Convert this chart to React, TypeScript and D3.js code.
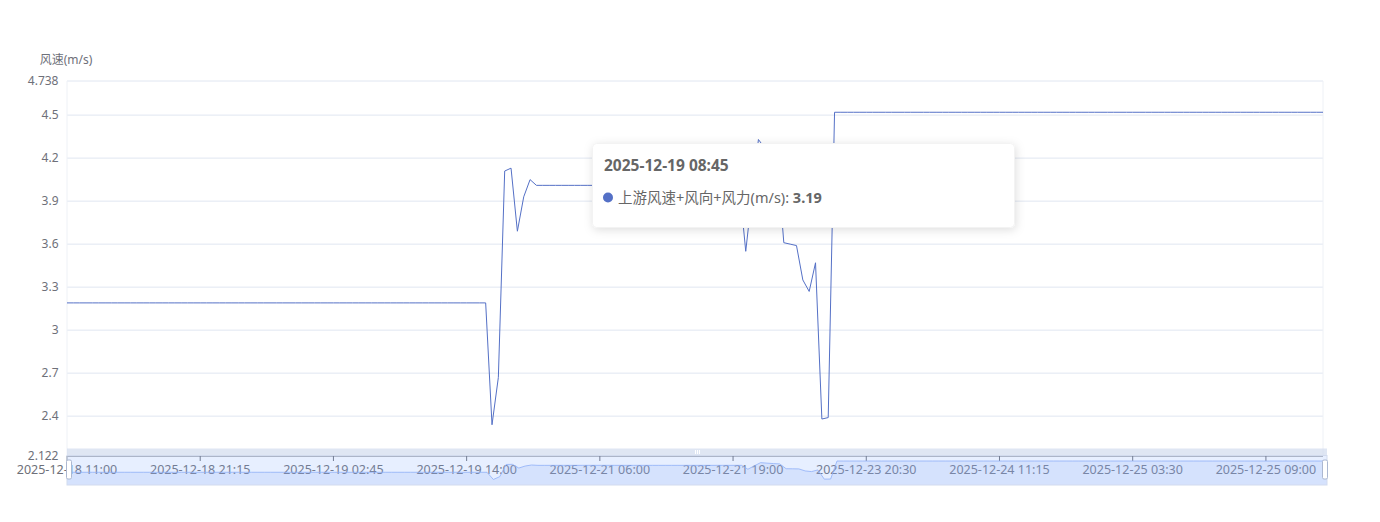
import React from 'react';
import * as d3 from 'd3';

// wind speed series (m/s), one value per category point
const values: number[] = [
  3.19, 3.19, 3.19, 3.19, 3.19, 3.19, 3.19, 3.19, 3.19, 3.19,
  3.19, 3.19, 3.19, 3.19, 3.19, 3.19, 3.19, 3.19, 3.19, 3.19,
  3.19, 3.19, 3.19, 3.19, 3.19, 3.19, 3.19, 3.19, 3.19, 3.19,
  3.19, 3.19, 3.19, 3.19, 3.19, 3.19, 3.19, 3.19, 3.19, 3.19,
  3.19, 3.19, 3.19, 3.19, 3.19, 3.19, 3.19, 3.19, 3.19, 3.19,
  3.19, 3.19, 3.19, 3.19, 3.19, 3.19, 3.19, 3.19, 3.19, 3.19,
  3.19, 3.19, 3.19, 3.19, 3.19, 3.19, 3.19,
  2.34, 2.67, 4.11, 4.13, 3.69, 3.93, 4.05, 4.01,
  4.01, 4.01, 4.01, 4.01, 4.01, 4.01, 4.01, 4.01, 4.01, 4.01,
  4.01, 4.01, 4.01, 4.01, 4.01, 4.01, 4.01, 4.01, 4.01, 4.01,
  4.01, 4.01, 4.01, 4.01, 4.01, 4.01, 4.01, 4.01, 4.01, 4.01,
  4.01, 4.01,
  3.55, 3.95, 4.33, 4.27, 4.22, 4.18, 3.61, 3.60, 3.59, 3.35,
  3.27, 3.47, 2.38, 2.39,
  4.52, 4.52, 4.52, 4.52, 4.52, 4.52, 4.52, 4.52, 4.52, 4.52,
  4.52, 4.52, 4.52, 4.52, 4.52, 4.52, 4.52, 4.52, 4.52, 4.52,
  4.52, 4.52, 4.52, 4.52, 4.52, 4.52, 4.52, 4.52, 4.52, 4.52,
  4.52, 4.52, 4.52, 4.52, 4.52, 4.52, 4.52, 4.52, 4.52, 4.52,
  4.52, 4.52, 4.52, 4.52, 4.52, 4.52, 4.52, 4.52, 4.52, 4.52,
  4.52, 4.52, 4.52, 4.52, 4.52, 4.52, 4.52, 4.52, 4.52, 4.52,
  4.52, 4.52, 4.52, 4.52, 4.52, 4.52, 4.52, 4.52, 4.52, 4.52,
  4.52, 4.52, 4.52, 4.52, 4.52, 4.52, 4.52, 4.52,
];

// category labels that are shown (every labelInterval-th point)
const xLabels: string[] = [
  '2025-12-18 11:00',
  '2025-12-18 21:15',
  '2025-12-19 02:45',
  '2025-12-19 14:00',
  '2025-12-21 06:00',
  '2025-12-21 19:00',
  '2025-12-23 20:30',
  '2025-12-24 11:15',
  '2025-12-25 03:30',
  '2025-12-25 09:00',
];
const labelInterval = 21;

const yMin = 2.122;
const yMax = 4.738;
const yTicks: number[] = [4.5, 4.2, 3.9, 3.6, 3.3, 3, 2.7, 2.4];
const yAxisName = '风速(m/s)';

const tooltipTime = '2025-12-19 08:45';
const tooltipSeries = '上游风速+风向+风力(m/s)';
const tooltipValue = 3.19;

const FONT = "'Noto Sans', 'Noto Sans CJK SC', sans-serif";

export default function App() {
  const left = 67, right = 1323, top = 81, bottom = 456;
  const N = values.length;
  const x = d3.scaleLinear().domain([0, N - 1]).range([left, right]);
  const y = d3.scaleLinear().domain([yMin, yMax]).range([bottom, top]);
  const line = d3.line<number>().x((_, i) => x(i)).y((d) => y(d));

  // slider (dataZoom)
  const sL = 67, sR = 1327, sTop = 455.5, sBot = 485;
  const sx = d3.scaleLinear().domain([0, N - 1]).range([sL, sR]);
  const [dmin, dmax] = d3.extent(values) as [number, number];
  const off = (dmax - dmin) * 0.3;
  const sy = d3.scaleLinear().domain([dmin - off, dmax + off]).range([sBot, sTop]);
  const sLine = d3.line<number>().x((_, i) => sx(i)).y((d) => sy(d));
  const sArea = d3.area<number>().x((_, i) => sx(i)).y0(sBot).y1((d) => sy(d));

  const allY = [yMax, ...yTicks];

  return (
    <svg
      width={1380}
      height={522}
      style={{ position: 'absolute', left: 0, top: 0, display: 'block', background: '#fff' }}
      fontFamily={FONT}
    >
      <defs>
        <filter id="tipShadow" x="-10%" y="-30%" width="120%" height="160%">
          <feDropShadow dx="1" dy="2" stdDeviation="5" floodColor="#000" floodOpacity="0.13" />
        </filter>
      </defs>

      {/* grid lines */}
      {allY.map((v) => (
        <line key={'g' + v} x1={left} x2={right} y1={y(v)} y2={y(v)} stroke="#E0E6F1" strokeWidth={1} />
      ))}
      <line x1={left} x2={left} y1={top} y2={bottom} stroke="#EEF1F6" strokeWidth={1} />
      <line x1={right} x2={right} y1={top} y2={bottom} stroke="#EEF1F6" strokeWidth={1} />

      {/* y labels */}
      {[yMax, ...yTicks, yMin].map((v) => (
        <text key={'yl' + v} x={58.5} y={y(v)} dy="0.35em" textAnchor="end" fontSize={12} fill="#6E7079">
          {String(v)}
        </text>
      ))}
      <text x={66} y={60} dy="0.35em" textAnchor="middle" fontSize={12} fill="#6E7079">
        {yAxisName}
      </text>

      {/* series line */}
      <path d={line(values) || ''} fill="none" stroke="#5470C6" strokeWidth={1} strokeLinejoin="bevel" />

      {/* x axis */}
      <line x1={left} x2={right} y1={bottom} y2={bottom} stroke="#6E7079" strokeWidth={1} />
      {xLabels.map((lab, k) => {
        const xi = x(k * labelInterval);
        return (
          <g key={'xl' + k}>
            <line x1={xi} x2={xi} y1={bottom} y2={bottom + 5} stroke="#6E7079" strokeWidth={1} />
            <text x={xi} y={474} textAnchor="middle" fontSize={12.5} fill="#6E7079">
              {lab}
            </text>
          </g>
        );
      })}

      {/* dataZoom slider */}
      <rect x={sL} y={448.5} width={sR - sL} height={7} fill="#D2DBEE" opacity={0.7} />
      <g stroke="#fff" strokeWidth={1}>
        <line x1={695.5} x2={695.5} y1={450} y2={454} />
        <line x1={697.5} x2={697.5} y1={450} y2={454} />
        <line x1={699.5} x2={699.5} y1={450} y2={454} />
      </g>
      <rect x={sL} y={sTop} width={sR - sL} height={sBot - sTop} fill="rgb(135,175,255)" fillOpacity={0.2} />
      <path d={sArea(values) || ''} fill="#8fb0f7" fillOpacity={0.2} stroke="none" />
      <path d={sLine(values) || ''} fill="none" stroke="#8fb0f7" strokeWidth={0.8} />
      <rect x={sL} y={sTop} width={sR - sL} height={sBot - sTop} fill="none" stroke="#d2dbee" strokeWidth={1} />
      <rect x={66.5} y={460} width={5} height={19} rx={1.5} fill="#fff" stroke="#ACB8D1" strokeWidth={1} />
      <rect x={1322.5} y={460} width={5} height={19} rx={1.5} fill="#fff" stroke="#ACB8D1" strokeWidth={1} />

      {/* tooltip */}
      <g>
        <rect x={592.5} y={143.5} width={422} height={84} rx={4} fill="#fff" stroke="#f3f3f3" strokeWidth={1} filter="url(#tipShadow)" />
        <text x={604} y={171} fontSize={15.5} fontWeight="bold" fill="#666">
          {tooltipTime}
        </text>
        <circle cx={608} cy={197.5} r={5} fill="#5470C6" />
        <text x={618} y={203} fontSize={14.5} fill="#666">
          {tooltipSeries + ': '}
          <tspan fontWeight="bold">{String(tooltipValue)}</tspan>
        </text>
      </g>
    </svg>
  );
}
